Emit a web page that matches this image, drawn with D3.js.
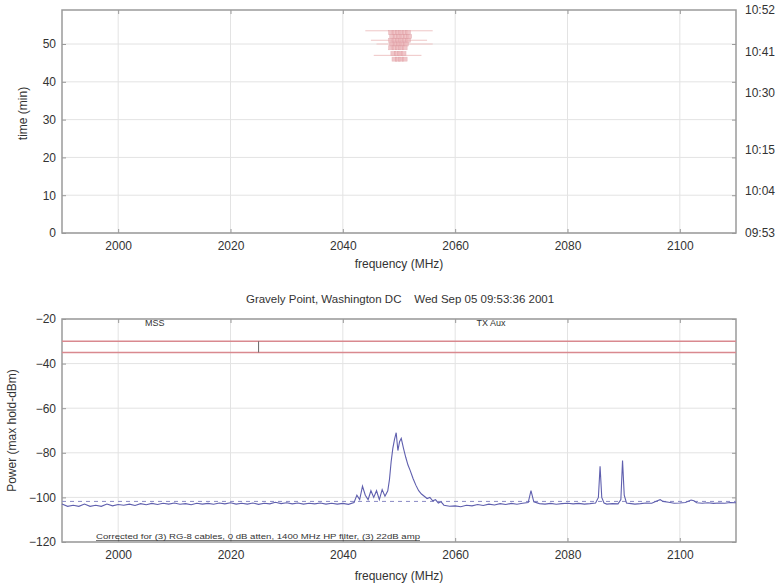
<!DOCTYPE html>
<html><head><meta charset="utf-8">
<script src="https://cdn.jsdelivr.net/npm/d3@7"></script>
<style>body{margin:0;background:#fff}svg text{font-family:"Liberation Sans",Arial,sans-serif;fill:#333}</style>
</head><body>
<svg id="c" width="783" height="586"></svg>
<script>
// ---- data ----
const freqTicks = [2000, 2020, 2040, 2060, 2080, 2100];
const timeTicks = [0, 10, 20, 30, 40, 50];
const clockLabels = ["09:53", "10:04", "10:15", "10:30", "10:41", "10:52"];
const clockMinutes = [0, 11, 22, 37, 48, 59];
const powerTicks = [-20, -40, -60, -80, -100, -120];
const detFreq = [2048.6, 2049.2, 2049.8, 2050.4, 2051.0, 2051.6, 2048.8, 2049.4, 2050.0, 2050.6, 2051.2, 2051.8, 2048.6, 2049.2, 2049.8, 2050.4, 2051.0, 2051.6, 2048.8, 2049.4, 2050.0, 2050.6, 2051.2, 2048.6, 2049.2, 2049.8, 2050.4, 2051.0, 2049.0, 2049.6, 2050.2, 2050.8, 2049.2, 2049.8, 2050.4, 2051.0];
const detTime = [53, 53, 53, 53, 53, 53, 52, 52, 52, 52, 52, 52, 51, 51, 51, 51, 51, 51, 50, 50, 50, 50, 50, 49, 49, 49, 49, 49, 47.5, 47.5, 47.5, 47.5, 46, 46, 46, 46];
const detLineStart = [2044, 2045, 2046, 2045.5];
const detLineEnd = [2056, 2055, 2056, 2054];
const detLineTime = [53.5, 51, 50, 47];
const specFreq = [1990,1991,1992,1993,1994,1995,1996,1997,1998,1999,2000,2001,2002,2003,2004,2005,2006,2007,2008,2009,2010,2011,2012,2013,2014,2015,2016,2017,2018,2019,2020,2021,2022,2023,2024,2025,2026,2027,2028,2029,2030,2031,2032,2033,2034,2035,2036,2037,2038,2039,2040,2041,2042,2042.5,2043,2043.5,2044,2044.5,2045,2045.5,2046,2046.5,2047,2047.5,2048,2048.3,2048.6,2048.9,2049.2,2049.5,2049.8,2050.1,2050.4,2050.8,2051.2,2051.6,2052,2052.5,2053,2053.5,2054,2054.5,2055,2055.5,2056,2056.5,2057,2057.5,2058,2059,2060,2061,2062,2063,2064,2065,2066,2067,2068,2069,2070,2071,2072,2073,2073.5,2074,2075,2076,2077,2078,2079,2080,2081,2082,2083,2084,2085,2085.5,2085.8,2086.1,2086.5,2087,2088,2089,2089.5,2089.8,2090.1,2090.5,2091,2092,2093,2094,2095,2096,2096.5,2097,2098,2099,2100,2101,2102,2102.5,2103,2104,2105,2106,2107,2108,2109,2110];
const specPower = [-103,-104,-103.5,-104,-103,-104,-103.5,-104,-103,-103.8,-103.2,-103.5,-103,-103.6,-102.8,-103.3,-102.7,-103.2,-102.6,-103,-102.5,-103.1,-102.8,-103.3,-102.6,-103,-102.7,-103.1,-102.5,-102.9,-102.4,-103,-102.6,-103,-102.5,-103.1,-102.6,-102.9,-102.2,-102.8,-102.4,-102.9,-102.5,-103,-102.6,-102.9,-102.5,-103,-102.6,-103,-102.7,-103.1,-102.3,-99,-101,-95,-99,-101,-97,-100,-97,-101,-96.5,-99.5,-97,-92,-84,-78,-74,-71,-79,-75,-73.5,-78,-82,-85.5,-88,-91.5,-94.5,-97,-98.5,-99.5,-100.5,-100,-101.5,-101,-102.5,-102,-103.5,-104,-103.8,-104.2,-103.5,-103.8,-103.2,-103.6,-103,-103.4,-102.8,-103.2,-102.7,-103.1,-102.6,-102.3,-97,-102,-102.8,-103,-102.7,-103.1,-102.8,-102.6,-102.9,-102.7,-103,-102.8,-102.5,-100,-86,-100,-102.5,-103,-102.8,-102.9,-101,-83.5,-99,-102.5,-102.7,-103,-102.8,-102.5,-102.6,-101.5,-101,-101.8,-102.2,-102.6,-102.5,-102.3,-101.2,-101.5,-102.4,-102.6,-102.4,-102.7,-102.5,-102.6,-102.3,-102.4];
const noiseFloor = -101.8;
const limitLevels = [-30, -35];
const bandEdge = 2025;
const bandNames = ["MSS", "TX Aux"];
const bandNameFreq = [2006.5, 2066.4];
const titleText = "Gravely Point, Washington DC    Wed Sep 05 09:53:36 2001";
const noteText = "Corrected for (3) RG-8 cables, 0 dB atten, 1400 MHz HP filter, (3) 22dB amp";

// ---- layout ----
const svg = d3.select("#c");
const L = 62, R = 736;
const top1 = 10, bot1 = 233, top2 = 319, bot2 = 542;
const x = d3.scaleLinear().domain([1990, 2110]).range([L, R]);
const yT = d3.scaleLinear().domain([0, 59]).range([bot1, top1]);
const yP = d3.scaleLinear().domain([-120, -20]).range([bot2, top2]);
const gridC = "#e3e3e3", boxC = "#9a9a9a";

function panel(y, yTicks, top, bot) {
  const g = svg.append("g");
  g.selectAll(".gx").data(freqTicks).join("line")
    .attr("x1", d => x(d)).attr("x2", d => x(d)).attr("y1", top).attr("y2", bot)
    .attr("stroke", gridC).attr("stroke-width", 1);
  g.selectAll(".gy").data(yTicks).join("line")
    .attr("x1", L).attr("x2", R).attr("y1", d => y(d)).attr("y2", d => y(d))
    .attr("stroke", gridC).attr("stroke-width", 1);
  const ax = g.append("g").attr("transform", `translate(0,${bot})`)
    .call(d3.axisBottom(x).tickValues(freqTicks).tickFormat(d3.format("d")).tickSizeInner(-4).tickSizeOuter(0).tickPadding(8));
  const axT = g.append("g").attr("transform", `translate(0,${top})`)
    .call(d3.axisTop(x).tickValues(freqTicks).tickFormat("").tickSizeInner(-4).tickSizeOuter(0));
  const ay = g.append("g").attr("transform", `translate(${L},0)`)
    .call(d3.axisLeft(y).tickValues(yTicks).tickFormat(d3.format("d")).tickSizeInner(-4).tickSizeOuter(0).tickPadding(6));
  const ayR = g.append("g").attr("transform", `translate(${R},0)`)
    .call(d3.axisRight(y).tickValues(yTicks).tickFormat("").tickSizeInner(-4).tickSizeOuter(0));
  [ax, axT, ay, ayR].forEach(a => {
    a.select(".domain").remove();
    a.selectAll("line").attr("stroke", boxC);
    a.selectAll("text").attr("font-size", 12).attr("fill", "#333")
      .style("font-family", "'Liberation Sans', Arial, sans-serif");
  });
  g.append("rect").attr("x", L).attr("y", top).attr("width", R - L).attr("height", bot - top)
    .attr("fill", "none").attr("stroke", boxC).attr("stroke-width", 1.5);
  return g;
}

// Top panel
const g1 = panel(yT, timeTicks, top1, bot1);
g1.selectAll(".rl").data(clockLabels).join("text")
  .attr("x", R + 9).attr("y", (d, i) => yT(clockMinutes[i]) + 4)
  .attr("font-size", 12).text(d => d);
g1.selectAll(".dl").data(detLineTime).join("line")
  .attr("x1", (d, i) => x(detLineStart[i])).attr("x2", (d, i) => x(detLineEnd[i]))
  .attr("y1", d => yT(d)).attr("y2", d => yT(d))
  .attr("stroke", "#efc6c6").attr("stroke-width", 1);
g1.selectAll(".det").data(detFreq).join("rect")
  .attr("x", d => x(d) - 2.5).attr("y", (d, i) => yT(detTime[i]) - 2)
  .attr("width", 5).attr("height", 4)
  .attr("fill", "#ecb4b8").attr("stroke", "#dc9aa0").attr("stroke-width", 0.5).attr("opacity", 0.75);
g1.append("text").attr("x", (L + R) / 2).attr("y", 268).attr("text-anchor", "middle")
  .attr("font-size", 12).text("frequency (MHz)");
g1.append("text").attr("transform", `translate(27,${(top1 + bot1) / 2 - 8}) rotate(-90)`)
  .attr("text-anchor", "middle").attr("font-size", 12).text("time (min)");

// Bottom panel
const g2 = panel(yP, powerTicks, top2, bot2);
g2.append("text").attr("x", 400).attr("y", 303).attr("text-anchor", "middle")
  .attr("font-size", 11.5).attr("xml:space", "preserve").style("white-space", "pre").text(titleText);
g2.selectAll(".lim").data(limitLevels).join("line")
  .attr("x1", L).attr("x2", R).attr("y1", d => yP(d)).attr("y2", d => yP(d))
  .attr("stroke", "#d9898f").attr("stroke-width", 1.6);
g2.append("line").attr("x1", x(bandEdge)).attr("x2", x(bandEdge))
  .attr("y1", yP(limitLevels[0])).attr("y2", yP(limitLevels[1]))
  .attr("stroke", "#666").attr("stroke-width", 1);
g2.selectAll(".bn").data(bandNames).join("text")
  .attr("x", (d, i) => x(bandNameFreq[i])).attr("y", yP(-23))
  .attr("text-anchor", "middle").attr("font-size", 9).attr("fill", "#777").text(d => d);
g2.append("line").attr("x1", L).attr("x2", R).attr("y1", yP(noiseFloor)).attr("y2", yP(noiseFloor))
  .attr("stroke", "#8a8ac4").attr("stroke-width", 1).attr("stroke-dasharray", "4,4");
const line = d3.line().x((d, i) => x(specFreq[i])).y(d => yP(d));
g2.append("path").datum(specPower).attr("d", line)
  .attr("fill", "none").attr("stroke", "#5f5fae").attr("stroke-width", 1.1);
g2.append("text").attr("x", 96).attr("y", bot2 - 3).attr("font-size", 6.5).attr("fill", "#666")
  .attr("textLength", 324).attr("lengthAdjust", "spacingAndGlyphs")
  .attr("text-decoration", "underline").text(noteText);
g2.append("text").attr("x", (L + R) / 2).attr("y", 580).attr("text-anchor", "middle")
  .attr("font-size", 12).text("frequency (MHz)");
g2.append("text").attr("transform", `translate(16,${(top2 + bot2) / 2}) rotate(-90)`)
  .attr("text-anchor", "middle").attr("font-size", 12).text("Power (max hold-dBm)");
</script>
</body></html>
